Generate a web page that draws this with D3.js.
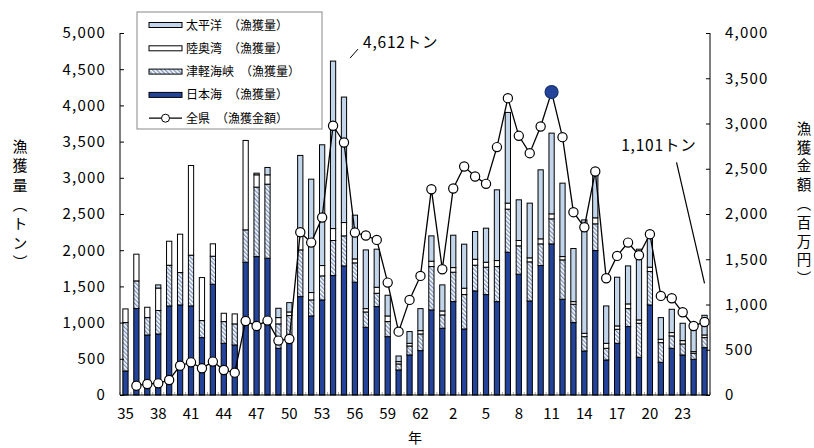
<!DOCTYPE html>
<html>
<head>
<meta charset="utf-8">
<script src="https://cdn.jsdelivr.net/npm/d3@7"></script>
<style>
  body { margin: 0; background: #fff; }
  text { font-family: "Noto Sans CJK JP", "Noto Sans", sans-serif; fill: #000; }
</style>
</head>
<body>
<div id="chart"></div>
<script>
// 年（昭和35〜63、平成1〜25）
let years = ['35','36','37','38','39','40','41','42','43','44','45','46','47','48','49',
  '50','51','52','53','54','55','56','57','58','59','60','61','62','63',
  '1','2','3','4','5','6','7','8','9','10','11','12','13','14','15','16','17','18',
  '19','20','21','22','23','24','25']
let tickYears = ['35','38','41','44','47','50','53','56','59','62','2','5','8','11','14','17','20','23']

// 漁獲量（トン）
let nihonkai = [332,1194,829,843,1230,1244,1230,793,1530,714,691,1834,1912,1889,645,
  737,1359,1092,1313,1650,1783,1558,935,1221,806,346,553,613,1175,
  922,1290,912,1438,1387,1290,1972,1668,1299,1788,2087,1322,1000,608,1995,484,714,945,
  521,1244,452,645,553,493,654]
let tsugaru = [668,382,240,324,562,447,701,235,387,300,291,447,959,1023,337,
  360,645,221,332,484,415,267,212,184,208,83,124,230,599,
  184,406,475,355,378,484,595,392,540,299,346,544,253,198,369,161,194,248,
  470,461,271,171,152,83,139]
let mutsu = [189,369,143,310,332,530,1239,594,171,115,138,1235,170,129,87,
  50,185,102,143,165,184,55,46,83,78,32,37,46,74,
  55,64,88,82,69,83,83,74,55,70,69,46,37,46,83,69,46,65,
  46,60,47,46,46,23,36]
let taiheiyo = [0,0,0,44,0,0,0,0,0,0,0,0,23,102,129,
  129,1120,1566,1668,2313,1733,604,811,526,286,78,162,304,350,
  360,447,608,383,470,977,1253,562,756,953,1115,1014,733,1567,617,516,673,525,
  977,424,299,322,240,300,272]
// 全県 漁獲金額（百万円）
let kingaku = [null,103,122,129,166,324,361,295,369,276,247,818,763,822,601,
  619,1799,1684,1961,2975,2790,1795,1762,1714,1242,700,1051,1316,2274,
  1390,2282,2525,2414,2333,2739,3280,2864,2672,2967,3347,2849,2020,1854,2470,1290,1537,1684,
  1544,1777,1095,1069,914,763,807]

let leftTicks = [0,500,1000,1500,2000,2500,3000,3500,4000,4500,5000]
let rightTicks = [0,500,1000,1500,2000,2500,3000,3500,4000]

let seriesNames = ['日本海', '津軽海峡', '陸奥湾', '太平洋']
let seriesFill = ['#23449a', 'url(#hatch)', '#ffffff', '#c3d5ea']

let width = 814
let height = 448
let plot = { left: 120, right: 710, top: 33, bottom: 395 }

let svg = d3.select('#chart').append('svg')
  .attr('width', width)
  .attr('height', height)

let defs = svg.append('defs')
let hatch = defs.append('pattern')
  .attr('id', 'hatch')
  .attr('patternUnits', 'userSpaceOnUse')
  .attr('width', 3)
  .attr('height', 3)
  .attr('patternTransform', 'rotate(-45)')
hatch.append('rect').attr('width', 3).attr('height', 3).attr('fill', '#ffffff')
hatch.append('rect').attr('width', 1.4).attr('height', 3).attr('fill', '#7d95c0')

let x = d3.scaleBand()
  .domain(years.map((d, i) => i))
  .range([plot.left, plot.right])
  .paddingInner(0.52)
  .paddingOuter(0.26)

let yLeft = d3.scaleLinear().domain([0, 5000]).range([plot.bottom, plot.top])
let yRight = d3.scaleLinear().domain([0, 4000]).range([plot.bottom, plot.top])

// stacked table
let table = years.map((yr, i) => ({
  i: i,
  '日本海': nihonkai[i],
  '津軽海峡': tsugaru[i],
  '陸奥湾': mutsu[i],
  '太平洋': taiheiyo[i]
}))
let stacked = d3.stack().keys(seriesNames)(table)

// minor ticks on category axis
svg.append('g')
  .selectAll('line')
  .data(d3.range(years.length + 1))
  .enter()
  .append('line')
  .attr('x1', d => plot.left + d * x.step())
  .attr('x2', d => plot.left + d * x.step())
  .attr('y1', plot.bottom)
  .attr('y2', plot.bottom - 3)
  .attr('stroke', '#aaa')

svg.append('g')
  .selectAll('g')
  .data(stacked)
  .enter()
  .append('g')
  .attr('fill', (d, k) => seriesFill[k])
  .selectAll('rect')
  .data(d => d.filter(s => s[1] - s[0] > 0))
  .enter()
  .append('rect')
  .attr('x', d => x(d.data.i))
  .attr('width', x.bandwidth())
  .attr('y', d => yLeft(d[1]))
  .attr('height', d => yLeft(d[0]) - yLeft(d[1]))
  .attr('stroke', '#000')
  .attr('stroke-width', 1)

// axes
let leftAxis = d3.axisLeft(yLeft).tickValues(leftTicks).tickSize(-4).tickPadding(14).tickFormat(d3.format(','))
svg.append('g')
  .attr('transform', `translate(${plot.left},0)`)
  .call(leftAxis)
  .call(g => g.select('.domain').attr('d', `M0,${plot.top}V${plot.bottom}`))
  .call(g => g.selectAll('text').attr('font-size', 15).attr('letter-spacing', 1.2).style('font-family', '"Noto Sans CJK JP"'))

let rightAxis = d3.axisRight(yRight).tickValues(rightTicks).tickSize(-4).tickPadding(15).tickFormat(d3.format(','))
svg.append('g')
  .attr('transform', `translate(${plot.right},0)`)
  .call(rightAxis)
  .call(g => g.select('.domain').attr('d', `M0,${plot.top}V${plot.bottom}`))
  .call(g => g.selectAll('text').attr('font-size', 15).attr('letter-spacing', 1.2).style('font-family', '"Noto Sans CJK JP"'))

svg.append('line')
  .attr('x1', plot.left).attr('x2', plot.right)
  .attr('y1', plot.bottom).attr('y2', plot.bottom)
  .attr('stroke', '#000')

svg.append('g')
  .selectAll('text')
  .data(tickYears)
  .enter()
  .append('text')
  .attr('x', d => x(years.indexOf(d)) + x.bandwidth() / 2)
  .attr('y', 419)
  .attr('text-anchor', 'middle')
  .attr('font-size', 15)
  .text(d => d)

svg.append('text')
  .attr('x', 415)
  .attr('y', 443)
  .attr('text-anchor', 'middle')
  .attr('font-size', 14)
  .text('年')

svg.append('text')
  .attr('x', 20)
  .attr('y', 139)
  .attr('font-size', 15)
  .attr('letter-spacing', 4.3)
  .style('writing-mode', 'vertical-rl')
  .text('漁獲量（トン）')

svg.append('text')
  .attr('x', 804)
  .attr('y', 121)
  .attr('font-size', 14.5)
  .attr('letter-spacing', 4.3)
  .style('writing-mode', 'vertical-rl')
  .text('漁獲金額（百万円）')

// value line
let line = d3.line()
  .defined(d => d !== null)
  .x((d, i) => x(i) + x.bandwidth() / 2)
  .y(d => yRight(d))

svg.append('path')
  .datum(kingaku)
  .attr('d', line)
  .attr('fill', 'none')
  .attr('stroke', '#000')
  .attr('stroke-width', 1.3)

let maxIdx = d3.maxIndex(kingaku)
svg.append('g')
  .selectAll('circle')
  .data(kingaku.map((v, i) => ({ v, i })).filter(d => d.v !== null))
  .enter()
  .append('circle')
  .attr('cx', d => x(d.i) + x.bandwidth() / 2)
  .attr('cy', d => yRight(d.v))
  .attr('r', d => d.i === maxIdx ? 6.5 : 4.6)
  .attr('fill', d => d.i === maxIdx ? '#23449a' : '#fff')
  .attr('stroke', d => d.i === maxIdx ? '#1a3370' : '#000')
  .attr('stroke-width', 1.2)

// annotations
let totals = years.map((d, i) => nihonkai[i] + tsugaru[i] + mutsu[i] + taiheiyo[i])
let peak = d3.maxIndex(totals)
let px = x(peak) + x.bandwidth() / 2
let py = yLeft(totals[peak])
svg.append('line')
  .attr('x1', px + 17).attr('y1', py - 3)
  .attr('x2', px + 25).attr('y2', py - 12)
  .attr('stroke', '#000')
svg.append('text')
  .attr('x', px + 30)
  .attr('y', py - 13)
  .attr('font-size', 15.5)
  .attr('letter-spacing', 0.8)
  .text(d3.format(',')(totals[peak]) + 'トン')

let last = years.length - 1
let lx = x(last) + x.bandwidth() / 2
let ly = yLeft(totals[last])
svg.append('line')
  .attr('x1', lx - 28).attr('y1', ly - 153)
  .attr('x2', lx).attr('y2', ly - 32)
  .attr('stroke', '#000')
  .attr('stroke-width', 1.2)
svg.append('text')
  .attr('x', lx - 8)
  .attr('y', ly - 164)
  .attr('text-anchor', 'end')
  .attr('font-size', 15.5)
  .attr('letter-spacing', 0.8)
  .text(d3.format(',')(totals[last]) + 'トン')

// legend
let legend = svg.append('g').attr('transform', 'translate(137,12)')
legend.append('rect')
  .attr('width', 185)
  .attr('height', 117)
  .attr('fill', '#fff')
  .attr('stroke', '#888')

let legendItems = [
  { label: '太平洋　（漁獲量）', fill: seriesFill[3] },
  { label: '陸奥湾　（漁獲量）', fill: seriesFill[2] },
  { label: '津軽海峡　（漁獲量）', fill: seriesFill[1] },
  { label: '日本海　（漁獲量）', fill: seriesFill[0] },
  { label: '全県　（漁獲金額）', fill: null }
]
let item = legend.selectAll('.item')
  .data(legendItems)
  .enter()
  .append('g')
  .attr('class', 'item')
  .attr('transform', (d, i) => `translate(12,${13 + i * 23.3})`)
item.filter(d => d.fill)
  .append('rect')
  .attr('x', 0).attr('y', -2.5)
  .attr('width', 33).attr('height', 5)
  .attr('fill', d => d.fill)
  .attr('stroke', '#000')
item.filter(d => !d.fill)
  .append('line')
  .attr('x1', 0).attr('x2', 33)
  .attr('stroke', '#000').attr('stroke-width', 1.3)
item.filter(d => !d.fill)
  .append('circle')
  .attr('cx', 16.5).attr('r', 4)
  .attr('fill', '#fff').attr('stroke', '#000')
item.append('text')
  .attr('x', 37)
  .attr('y', 4.5)
  .attr('font-size', 12)
  .text(d => d.label)
</script>
</body>
</html>
